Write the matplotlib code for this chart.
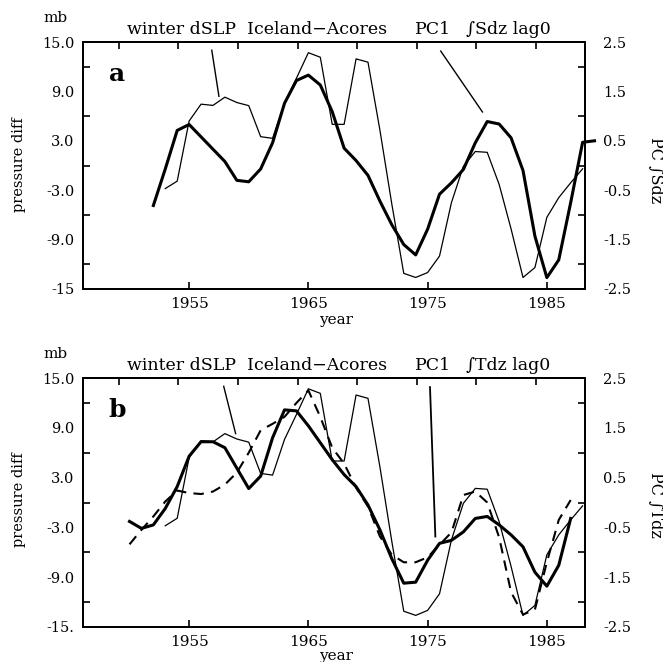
import numpy as np
import matplotlib
matplotlib.use("Agg")
import matplotlib.pyplot as plt
from matplotlib.ticker import FixedLocator, NullFormatter

plt.rcParams["font.family"] = ["DejaVu Serif"]

# winter dSLP Iceland-Acores (mb), same series in both panels
slp_years = list(range(1953, 1989))
slp_mb = [-2.8, -1.9, 5.4, 7.45, 7.3, 8.3, 7.65, 7.27, 3.5, 3.3,
          7.6, 10.6, 13.7, 13.15, 5.0, 5.0, 12.95, 12.55, 4.3, -4.7,
          -13.1, -13.6, -13.0, -11.0, -4.5, -0.1, 1.7, 1.6, -2.3, -7.7,
          -13.6, -12.4, -6.3, -3.9, -2.1, -0.4]

# panel a: PC1 of integrated S, lag 0
pcs_years = list(range(1952, 1990))
pcs = [-0.81, -0.07, 0.71, 0.83, 0.58, 0.33, 0.08, -0.3, -0.33, -0.07,
       0.46, 1.26, 1.72, 1.83, 1.63, 1.09, 0.35, 0.1, -0.2, -0.72,
       -1.2, -1.6, -1.81, -1.29, -0.58, -0.35, -0.08, 0.46, 0.89, 0.84,
       0.56, -0.1, -1.43, -2.27, -1.91, -0.75, 0.47, 0.5]

# panel b: PC1 of integrated T, lag 0 (thick) and dashed series
pct_years = list(range(1950, 1988))
pct = [-0.38, -0.52, -0.45, -0.12, 0.32, 0.93, 1.22, 1.22, 1.1, 0.69,
       0.28, 0.53, 1.3, 1.86, 1.84, 1.54, 1.2, 0.86, 0.56, 0.32,
       -0.05, -0.55, -1.13, -1.62, -1.6, -1.16, -0.82, -0.76, -0.59, -0.32,
       -0.28, -0.45, -0.65, -0.89, -1.4, -1.68, -1.26, -0.32]
dashed = [-0.84, -0.55, -0.28, 0.02, 0.24, 0.19, 0.17, 0.22, 0.36, 0.6,
          1.0, 1.45, 1.58, 1.72, 2.0, 2.25, 1.72, 1.1, 0.78, 0.3,
          -0.08, -0.68, -1.05, -1.2, -1.2, -1.1, -0.85, -0.6, 0.15, 0.22,
          0.0, -0.7, -1.8, -2.25, -2.15, -1.2, -0.35, 0.05]

left_labels = ["-15", "-9.0", "-3.0", "3.0", "9.0", "15.0"]
left_labels_b = ["-15.", "-9.0", "-3.0", "3.0", "9.0", "15.0"]
right_labels = ["-2.5", "-1.5", "-0.5", "0.5", "1.5", "2.5"]

W, H = 663, 662
fig = plt.figure(figsize=(W / 100, H / 100), dpi=100)


def fx(px):
    return px / W


def fy(py):
    return 1 - py / H


def panel(top_px, bot_px, letter, left_lab, leaders):
    ax = fig.add_axes([fx(83), fy(bot_px), fx(585 - 83), (bot_px - top_px) / H])
    ax2 = ax.twinx()
    ax.set_xlim(1946.1, 1988.2)
    ax.set_ylim(-15, 15)
    ax2.set_ylim(-2.5, 2.5)

    ax.set_yticks([-15, -9, -3, 3, 9, 15])
    ax.set_yticklabels(left_lab, fontsize=10.5)
    ax.yaxis.set_minor_locator(FixedLocator([-12, -6, 0, 6, 12]))
    ax.tick_params(axis="y", which="major", length=0, pad=6)
    ax.tick_params(axis="y", which="minor", length=5, width=1.2, direction="in")

    ax2.set_yticks([-2.5, -1.5, -0.5, 0.5, 1.5, 2.5])
    ax2.set_yticklabels(right_labels, fontsize=10.5)
    ax2.yaxis.set_minor_locator(FixedLocator([-2, -1, 0, 1, 2]))
    ax2.tick_params(axis="y", which="major", length=0, pad=13)
    ax2.tick_params(axis="y", which="minor", length=5, width=1.2, direction="in")

    ax.set_xticks([1955, 1965, 1975, 1985])
    ax.tick_params(axis="x", length=5, width=1.2, direction="in", labelsize=11, pad=6)
    top = ax.secondary_xaxis("top")
    top.set_xticks(np.arange(1949.1, 1988, 5))
    top.xaxis.set_major_formatter(NullFormatter())
    top.tick_params(length=5, width=1.2, direction="in")

    for a in (ax, ax2):
        for s in a.spines.values():
            s.set_linewidth(1.4)
    top.spines["top"].set_linewidth(1.4)

    ax.plot(slp_years, slp_mb, color="black", lw=0.9)
    for (x0, y0), (x1, y1) in leaders:
        ax.plot([x0, x1], [y0, y1], color="black", lw=1.0)

    ax.text(0.068, 0.87, letter, transform=ax.transAxes, fontsize=18,
            fontweight="bold", ha="center", va="center")
    return ax, ax2


# panel a
ax, ax2 = panel(42, 289, "a", left_labels,
                [((1956.9, 14.0), (1957.5, 8.4)), ((1976.1, 13.9), (1979.6, 6.5))])
ax2.plot(pcs_years, pcs, color="black", lw=2.2, clip_on=False,
         solid_joinstyle="round")

# panel b
bx, bx2 = panel(378, 627, "b", left_labels_b,
                [((1957.9, 14.0), (1958.9, 8.3))])
bx.plot([1975.2, 1975.65], [13.9, -4.1], color="black", lw=1.3)
bx2.plot(pct_years, dashed, color="black", lw=1.5, dashes=(5, 3.5))
bx2.plot(pct_years, pct, color="black", lw=2.2, solid_joinstyle="round")

# labels around the panels
for y0, name, ymid in [(0, "\u222bSdz", 170), (336, "\u222bTdz", 505)]:
    fig.text(fx(55), fy(18 + y0), "mb", fontsize=11, ha="center", va="center")
    fig.text(fx(127), fy(29 + y0), "winter dSLP  Iceland\u2212Acores",
             fontsize=12.5, ha="left", va="center")
    fig.text(fx(415), fy(29 + y0), "PC1", fontsize=12.5, ha="left", va="center")
    fig.text(fx(466), fy(29 + y0), name + " lag0", fontsize=12.5,
             ha="left", va="center")
    fig.text(fx(19), fy(ymid - 5), "pressure diff", fontsize=10.5, rotation=90,
             ha="center", va="center")
    fig.text(fx(656), fy(ymid), "PC " + name, fontsize=11.5, rotation=270,
             ha="center", va="center")
    fig.text(fx(336), fy(320 + y0), "year", fontsize=11, ha="center",
             va="center")

fig.savefig("out.png", dpi=100)
